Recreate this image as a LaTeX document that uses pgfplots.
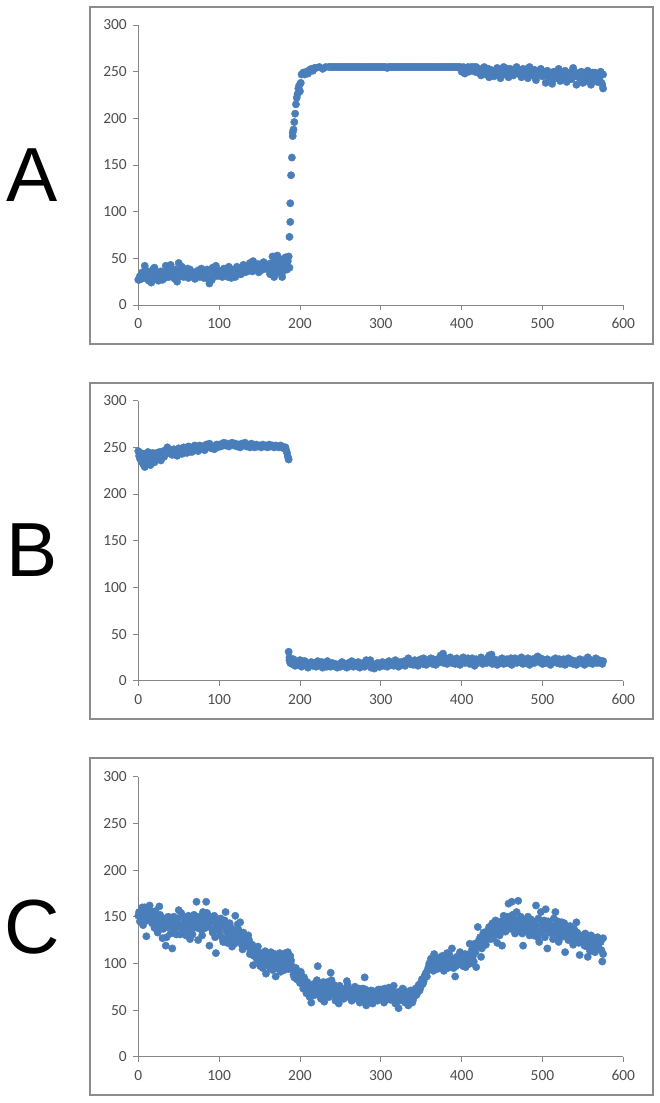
\documentclass[border=0pt]{standalone}
\usepackage{fontspec}
\setmainfont{Carlito}
\newfontfamily\letterfont{Liberation Sans}
\usepackage{pgfplots}
\pgfplotsset{compat=1.18}

\definecolor{dotblue}{HTML}{4A7EBB}
\definecolor{axisgray}{HTML}{868686}
\definecolor{framegray}{HTML}{8C8C8C}
\definecolor{labelgray}{HTML}{4D4D4D}

\pgfplotsset{
  panel/.style={
    scale only axis, width=485bp, height=280bp,
    anchor=south west,
    xmin=0, xmax=600, ymin=0, ymax=300,
    xtick={0,100,...,600}, ytick={0,50,...,300},
    axis x line*=bottom, axis y line*=left,
    axis line style={axisgray, line width=0.8bp, -},
    tick style={axisgray, line width=0.8bp},
    tick align=outside, major tick length=5bp,
    ticklabel style={font=\fontsize{15.5}{17}\selectfont, text=labelgray},
    xticklabel style={yshift=-5bp},
    yticklabel style={xshift=-3bp},
    /pgf/number format/assume math mode=true,
    clip=false,
  },
  dots/.style={only marks, color=dotblue, mark=*, mark size=3.7bp,
    mark options={fill=dotblue, draw=none}},
}

\begin{document}
\begin{tikzpicture}
% page size
\path (0bp,0bp) rectangle (660bp,-1103bp);

% frames
\draw[framegray, line width=1.2bp] (90bp,-7bp) rectangle (653bp,-344bp);
\draw[framegray, line width=1.2bp] (90bp,-383bp) rectangle (653bp,-719bp);
\draw[framegray, line width=1.2bp] (90bp,-758bp) rectangle (653bp,-1095bp);

% panel letters
\node[font=\letterfont\fontsize{77}{80}\selectfont, inner sep=0pt] at (32bp,-175bp) {A};
\node[font=\letterfont\fontsize{77}{80}\selectfont, inner sep=0pt] at (32bp,-550bp) {B};
\node[font=\letterfont\fontsize{77}{80}\selectfont, inner sep=0pt] at (32bp,-927bp) {C};

% ---- A ----
\begin{axis}[panel, at={(138.3bp,-305bp)}]
\addplot[dots] coordinates {
(0,27)(2,31)(4,28)(6,33)(8,42)(10,29)(12,36)(14,31)(16,24)(18,38)(20,40)(22,28)(24,34)(26,30)(28,36)(30,27)
(32,33)(34,42)(36,37)(38,30)(40,43)(42,34)(44,31)(46,38)(48,25)(50,45)(52,36)(54,41)(56,30)(58,37)(60,33)
(62,29)(64,38)(66,35)(68,31)(70,28)(72,34)(74,37)(76,30)(78,39)(80,33)(82,36)(84,29)(86,34)(88,23)(90,30)
(92,40)(94,35)(96,42)(98,31)(100,37)(102,34)(104,30)(106,39)(108,33)(110,36)(112,41)(114,32)(116,38)(118,35)
(120,30)(122,41)(124,36)(126,33)(128,38)(130,43)(132,35)(134,40)(136,37)(138,45)(140,39)(142,47)(144,42)
(146,38)(148,44)(150,40)(152,43)(154,38)(156,41)(158,39)(160,42)(162,44)(164,36)(166,52)(168,30)(170,46)
(172,53)(174,35)(176,49)(178,30)(180,44)(182,51)(184,38)(185,47)(186,52)
(1,27)(5,35)(9,29)(13,26)(21,35)(25,26)(33,29)(45,28)(51,34)(61,39)(73,33)(85,38)(91,27)(103,36)(115,29)
(127,33)(135,36)(141,36)(149,35)(155,46)(163,33)(167,42)(169,33)(171,40)(173,43)(175,37)(177,41)(179,36)
(181,40)(183,43)(187,40)
(7,31)(11,35)(17,29)(27,33)(37,31)(43,36)(53,31)(57,34)(65,31)(69,35)(77,32)(81,29)(93,34)(97,37)(107,32)
(111,30)(119,37)(123,33)(131,38)(137,41)(143,40)(147,41)(151,37)(157,44)(161,38)(165,45)(178,48)
(187,73)(188,89)(188,109)(189,139)(190,158)(191,181)(191,185)(192,188)(193,196)(194,205)(195,215)(196,222)
(197,226)(198,232)(199,235)(200,229)(201,238)(202,247)(204,249)(206,247)(208,250)(210,248)(212,252)(214,253)
(216,251)(218,254)(220,254)(224,255)(228,253)(232,255)
(236,255)(238,255)(240,255)(242,255)(244,255)(246,255)(248,255)(250,255)(252,255)(254,255)(256,255)(258,255)
(260,255)(262,255)(264,255)(266,255)(268,255)(270,255)(272,255)(274,255)(276,255)(278,255)(280,255)(282,255)
(284,255)(286,255)(288,255)(290,255)(292,255)(294,255)(296,255)(298,255)(300,255)(302,255)(304,255)(306,255)
(308,254)(310,255)(312,255)(314,255)(316,255)(318,255)(320,255)(322,255)(324,255)(326,255)(328,255)(330,255)
(332,255)(334,255)(336,255)(338,255)(340,255)(342,255)(344,255)(346,255)(348,255)(350,255)(352,255)(354,255)
(356,255)(358,255)(360,255)(362,255)(364,255)(366,255)(368,255)(370,255)(372,255)(374,255)(376,255)(378,255)
(380,255)(382,255)(384,255)(386,255)(388,255)(390,255)(392,255)(394,255)(396,255)(398,255)
(400,250)(402,255)(404,248)(406,254)(408,255)(410,252)(412,255)(414,253)(416,250)(418,255)(420,249)(422,253)
(424,246)(426,251)(428,255)(430,247)(432,250)(434,244)(436,252)(438,248)(440,245)(442,251)(444,254)(446,249)
(448,243)(450,252)(452,255)(454,247)(456,250)(458,244)(460,253)(462,249)(464,246)(466,252)(468,255)(470,248)
(472,251)(474,244)(476,253)(478,247)(480,250)(482,243)(484,255)(486,249)(488,246)(490,252)(492,241)(494,250)
(496,247)(498,253)(500,245)(502,249)(504,238)(506,251)(508,244)(510,248)(512,237)(514,250)(516,243)(518,247)
(520,253)(522,240)(524,248)(526,244)(528,251)(530,239)(532,246)(534,249)(536,242)(538,254)(540,245)(542,236)
(544,248)(546,243)(548,250)(550,238)(552,246)(554,240)(556,251)(558,244)(560,236)(562,249)(564,242)(566,246)
(568,239)(570,244)(572,250)(574,236)(575,232)(575,247)(573,238)
(403,253)(409,250)(415,255)(421,252)(427,248)(433,253)(439,251)(445,247)(451,249)(457,253)(463,251)(469,250)
(475,249)(481,253)(487,251)(493,248)(499,250)(505,246)(511,244)(517,250)(523,245)(529,247)(535,246)(541,249)
(547,246)(553,249)(559,241)(565,249)(571,240)
};
\end{axis}

% ---- B ----
\begin{axis}[panel, at={(138.3bp,-680.7bp)}]
\addplot[dots] coordinates {
(0,246)(1,241)(2,238)(3,244)(4,235)(5,240)(6,232)(7,243)(8,229)(9,237)(10,241)(11,233)(12,245)(13,236)
(14,239)(15,231)(16,243)(17,238)(18,244)(20,234)(22,242)(24,239)(26,245)(28,236)(30,243)(32,240)(34,247)
(36,250)(38,244)(40,247)(42,242)(44,248)(46,245)(48,241)(50,249)(52,246)(54,243)(56,250)(58,247)(60,244)
(62,251)(64,248)(66,245)(68,250)(70,252)(72,248)(74,246)(76,252)(78,249)(80,251)(82,247)(84,253)(86,250)
(88,254)(90,249)(92,251)(94,248)(96,252)(98,250)(100,253)(102,251)(104,254)(106,255)(108,252)(110,254)
(112,251)(114,253)(116,255)(118,252)(120,254)(122,251)(124,253)(126,250)(128,254)(130,252)(132,255)(134,251)
(136,253)(138,250)(140,254)(142,252)(144,250)(146,253)(148,251)(150,252)(152,250)(154,253)(156,251)(158,252)
(160,250)(162,253)(164,251)(166,252)(168,250)(170,252)(172,251)(174,250)(176,252)(178,251)(180,249)(182,250)
(183,247)(184,244)(185,240)(186,237)
(19,240)(21,237)(23,244)(25,241)(27,240)(29,245)(31,246)(33,243)(37,246)(41,244)(45,246)(49,244)(53,248)
(57,245)(61,248)(65,250)(69,247)(73,250)(77,249)(81,248)(85,250)(89,251)(93,250)(97,253)(101,252)(105,252)
(186,31)(187,22)(187,25)(188,19)(189,21)(190,18)(192,23)(194,16)(196,20)(198,17)(200,22)(202,15)(204,19)
(206,21)(208,17)(210,14)(212,18)(214,20)(216,16)(218,19)(220,15)(222,21)(224,17)(226,19)(228,14)(230,18)
(232,16)(234,21)(236,17)(238,15)(240,19)(242,16)(244,18)(246,14)(248,17)(250,15)(252,20)(254,16)(256,18)
(258,14)(260,19)(262,16)(264,21)(266,15)(268,18)(270,16)(272,20)(274,14)(276,17)(278,19)(280,15)(282,22)
(284,17)(286,20)(288,14)(290,18)(292,13)(294,16)(296,19)(298,15)(300,17)(302,20)(304,16)(306,18)(308,15)
(310,21)(312,17)(314,19)(316,16)(318,22)(320,18)(322,15)(324,20)(326,17)(328,19)(330,16)(332,21)(334,24)
(336,18)(338,20)(340,17)(342,22)(344,19)(346,16)(348,21)(350,23)(352,18)(354,20)(356,17)(358,22)(360,19)
(362,24)(364,18)(366,21)(368,17)(370,23)(372,20)(374,27)(376,22)(378,19)(380,24)(382,18)(384,21)(386,25)
(388,19)(390,22)(392,18)(394,24)(396,20)(398,17)(400,22)(402,25)(404,19)(406,21)(408,24)(410,18)(412,22)
(414,20)(416,16)(418,23)(420,19)(422,21)(424,25)(426,18)(428,22)(430,20)(432,24)(434,27)(436,21)(438,18)
(440,23)(442,20)(444,17)(446,22)(448,19)(450,24)(452,18)(454,21)(456,23)(458,19)(460,22)(462,17)(464,21)
(466,24)(468,19)(470,22)(472,20)(474,25)(476,18)(478,22)(480,20)(482,24)(484,17)(486,21)(488,23)(490,19)
(492,22)(494,26)(496,20)(498,24)(500,18)(502,22)(504,19)(506,23)(508,21)(510,17)(512,22)(514,20)(516,24)
(518,19)(520,22)(522,18)(524,21)(526,23)(528,17)(530,20)(532,24)(534,19)(536,22)(538,18)(540,21)(542,17)
(544,20)(546,23)(548,19)(550,22)(552,17)(554,21)(556,25)(558,19)(560,22)(562,18)(564,21)(566,24)(568,19)
(570,22)(572,20)(574,18)(575,21)
(191,20)(197,18)(203,21)(209,16)(215,18)(221,17)(227,20)(233,15)(239,18)(245,16)(251,19)(257,15)(263,17)
(269,19)(275,16)(281,18)(287,22)(293,17)(299,15)(305,19)(311,17)(317,20)(323,18)(329,21)(335,20)(341,19)
(347,22)(353,24)(359,21)(365,23)(371,19)(377,29)(383,23)(389,21)(395,22)(401,20)(407,23)(413,24)(419,21)
(425,22)(431,19)(437,28)(443,22)(449,21)(455,19)(461,24)(467,21)(473,23)(479,19)(485,22)(491,24)(497,21)
(503,22)(509,19)(515,21)(521,23)(527,20)(533,22)(539,19)(545,21)(551,20)(557,23)(563,20)(569,21)(573,19)
};
\end{axis}

% ---- C ----
\begin{axis}[panel, at={(138.3bp,-1056.7bp)}]
\addplot[dots] coordinates {
(0,151)(2,145)(4,156)(6,141)(8,160)(10,129)(12,153)(14,162)(16,147)(18,155)(20,138)(22,150)(24,133)(26,161)
(28,142)(30,127)(32,148)(34,119)(36,139)(38,145)(40,132)(42,116)(44,150)(46,137)(48,143)(50,157)(52,131)
(54,152)(56,140)(58,147)(60,134)(62,151)(64,126)(66,145)(68,138)(70,149)(72,166)(74,125)(76,143)(78,136)
(80,155)(82,146)(84,166)(86,140)(88,119)(90,148)(92,133)(94,151)(96,111)(98,143)(100,135)(102,148)(104,127)
(106,140)(108,155)(110,122)(112,131)(114,139)(116,118)(118,128)(120,151)(122,125)(124,136)(126,144)(128,120)
(130,133)(132,127)(134,121)(136,130)(138,110)(140,116)(142,98)(144,112)(146,107)(148,118)(150,101)(152,110)
(154,95)(156,105)(158,89)(160,108)(162,99)(164,112)(166,93)(168,104)(170,86)(172,97)(174,109)(176,91)
(178,106)(180,99)(182,111)(184,102)(186,94)(188,108)(190,97)(192,88)(194,92)(196,83)(198,90)(200,79)
(202,87)(204,73)(206,82)(208,68)(210,76)(212,64)(214,58)(216,72)(218,66)(220,78)(222,97)(224,70)(226,62)
(228,75)(230,59)(232,68)(234,80)(236,64)(238,90)(240,71)(242,77)(244,60)(246,69)(248,57)(250,74)(252,66)
(254,62)(256,70)(258,81)(260,64)(262,72)(264,60)(266,68)(268,75)(270,63)(272,70)(274,58)(276,66)(278,73)
(280,85)(282,55)(284,68)(286,62)(288,71)(290,57)(292,65)(294,69)(296,60)(298,67)(300,72)(302,63)(304,58)
(306,70)(308,66)(310,74)(312,61)(314,68)(316,76)(318,57)(320,65)(322,52)(324,70)(326,63)(328,72)(330,58)
(332,67)(334,55)(336,70)(338,64)(340,61)(342,69)(344,66)(346,75)(348,71)(350,80)(352,78)(354,86)(356,90)
(358,93)(360,100)(362,105)(364,96)(366,110)(368,102)(370,94)(372,106)(374,99)(376,108)(378,92)(380,104)
(382,111)(384,97)(386,103)(388,116)(390,95)(392,86)(394,107)(396,100)(398,112)(400,105)(402,97)(404,110)
(406,101)(408,99)(410,121)(412,104)(414,108)(416,121)(418,96)(420,139)(422,118)(424,107)(426,124)(428,130)
(430,120)(432,135)(434,139)(436,126)(438,143)(440,131)(442,146)(444,122)(446,136)(448,141)(450,119)(452,151)
(454,134)(456,144)(458,164)(460,138)(462,166)(464,148)(466,132)(468,155)(470,167)(472,141)(474,137)(476,119)
(478,145)(480,139)(482,150)(484,130)(486,147)(488,135)(490,143)(492,162)(494,128)(496,123)(498,155)(500,140)
(502,146)(504,158)(506,116)(508,137)(510,141)(512,132)(514,148)(516,155)(518,128)(520,123)(522,139)(524,144)
(526,131)(528,112)(530,136)(532,125)(534,140)(536,136)(538,120)(540,133)(542,144)(544,128)(546,109)(548,124)
(550,130)(552,119)(554,126)(556,107)(558,121)(560,130)(562,115)(564,125)(566,119)(568,128)(570,116)(572,123)
(574,102)(575,127)
(1,155)(3,149)(5,160)(7,152)(9,157)(11,146)(13,158)(15,150)(17,143)(19,150)(21,156)(23,146)(25,140)(27,152)
(29,144)(31,137)(33,146)(35,128)(37,150)(39,140)(41,147)(43,138)(45,143)(47,131)(49,148)(51,140)(53,154)
(55,136)(57,144)(59,130)(61,141)(63,148)(65,139)(67,131)(69,152)(71,143)(73,138)(75,150)(77,141)(79,130)
(81,148)(83,138)(85,154)(87,142)(89,150)(91,137)(93,145)(95,128)(97,139)(99,147)(101,130)(103,141)(105,123)
(107,146)(109,134)(111,128)(113,143)(115,125)(117,136)(119,121)(121,133)(123,142)(125,124)(127,131)(129,115)
(131,127)(133,123)(135,118)(137,125)(139,113)(141,120)(143,108)(145,114)(147,104)(149,112)(151,97)(153,108)
(155,102)(157,113)(159,98)(161,104)(163,95)(165,107)(167,100)(169,110)(171,95)(173,103)(175,111)(177,98)
(179,104)(181,93)(183,106)(185,112)(187,99)(189,103)(191,95)(193,85)(195,95)(197,88)(199,82)(201,91)(203,78)
(205,85)(207,75)(209,80)(211,70)(213,74)(215,66)(217,78)(219,70)(221,82)(223,74)(225,66)(227,72)(229,80)
(231,64)(233,73)(235,67)(237,76)(239,82)(241,68)(243,74)(245,64)(247,70)(249,76)(251,63)(253,71)(255,67)
(257,73)(259,77)(261,68)(263,65)(265,72)(267,62)(269,70)(271,66)(273,73)(275,64)(277,69)(279,61)(281,72)
(283,66)(285,60)(287,68)(289,64)(291,70)(293,61)(295,66)(297,72)(299,63)(301,68)(303,65)(305,73)(307,61)
(309,69)(311,72)(313,64)(315,70)(317,66)(319,62)(321,69)(323,60)(325,66)(327,73)(329,63)(331,69)(333,61)
(335,66)(337,71)(339,58)(341,66)(343,73)(345,68)(347,77)(349,74)(351,83)(353,81)(355,88)(357,86)(359,96)
(361,98)(363,102)(365,92)(367,104)(369,99)(371,101)(373,95)(375,103)(377,98)(379,106)(381,100)(383,95)
(385,109)(387,99)(389,104)(391,101)(393,97)(395,103)(397,108)(399,99)(401,102)(403,106)(405,96)(407,104)
(409,110)(411,100)(413,115)(415,102)(417,112)(419,118)(421,124)(423,128)(425,116)(427,133)(429,125)(431,128)
(433,130)(435,132)(437,136)(439,127)(441,138)(443,134)(445,142)(447,130)(449,145)(451,138)(453,142)(455,135)
(457,150)(459,143)(461,137)(463,152)(465,140)(467,146)(469,134)(471,144)(473,150)(475,132)(477,140)(479,146)
(481,135)(483,141)(485,138)(487,145)(489,130)(491,140)(493,135)(495,148)(497,133)(499,142)(501,135)(503,128)
(505,138)(507,145)(509,133)(511,138)(513,126)(515,140)(517,134)(519,145)(521,132)(523,128)(525,138)(527,143)
(529,130)(531,128)(533,135)(535,125)(537,131)(539,137)(541,126)(543,133)(545,122)(547,130)(549,127)(551,121)
(553,132)(555,118)(557,126)(559,113)(561,123)(563,128)(565,112)(567,122)(569,118)(571,125)(573,114)(575,110)
};
\end{axis}
\end{tikzpicture}
\end{document}
